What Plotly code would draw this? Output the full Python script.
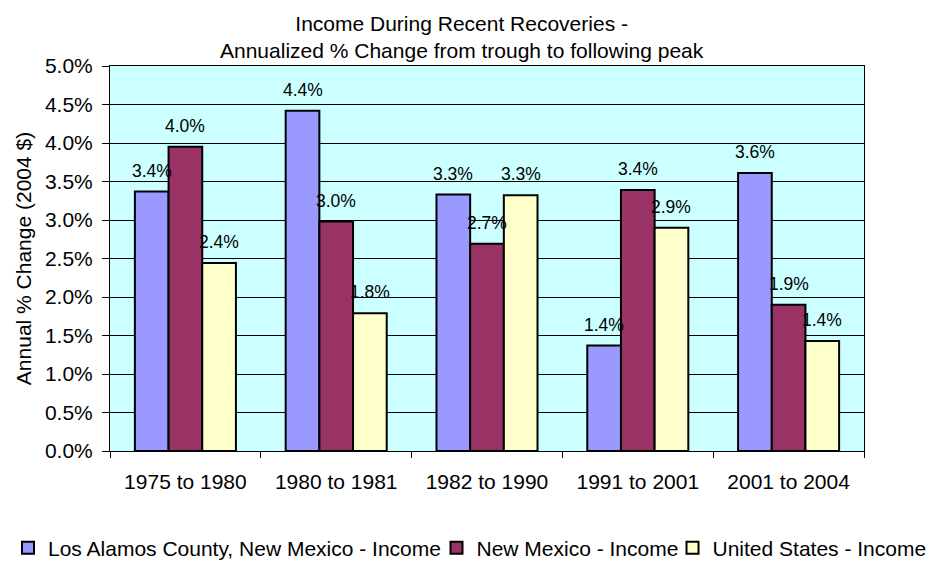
import plotly.graph_objects as go

categories = ["1975 to 1980", "1980 to 1981", "1982 to 1990", "1991 to 2001", "2001 to 2004"]
series_names = ["Los Alamos County, New Mexico - Income", "New Mexico - Income", "United States - Income"]
los_alamos = [3.37, 4.42, 3.33, 1.37, 3.61]
new_mexico = [3.95, 2.98, 2.69, 3.39, 1.90]
united_states = [2.44, 1.79, 3.32, 2.90, 1.43]
y_ticks = [0.0, 0.5, 1.0, 1.5, 2.0, 2.5, 3.0, 3.5, 4.0, 4.5, 5.0]
title_lines = ["Income During Recent Recoveries -", "Annualized % Change from trough to following peak"]

colors = ["#9999FF", "#993366", "#FFFFCC"]
series = [los_alamos, new_mexico, united_states]
FONT = "Arial, 'Liberation Sans', sans-serif"
BARGAP = 0.33

# the page body has an 8px margin; size the figure so it ends at the window edge
PAGE_OFF = 8
W, H = 935 - PAGE_OFF, 561 - PAGE_OFF
L, T = 110 - PAGE_OFF, 66 - PAGE_OFF
R, B = 71, 110

# one legend per series so the row sits in one line like the original
legend_ids = ["legend", "legend2", "legend3"]
legend_symbol_x = [28, 456.5, 692.5]   # page x of each legend swatch centre
LEGEND_Y = 548

fig = go.Figure()
for name, vals, col, lid in zip(series_names, series, colors, legend_ids):
    fig.add_trace(go.Bar(
        x=categories, y=vals, name=name, legend=lid, showlegend=True,
        marker=dict(color=col, line=dict(color="black", width=2)),
        hoverinfo="x+y+name",
    ))

# data labels above each bar
bw = (1 - BARGAP) / len(series)
annotations = []
for si, vals in enumerate(series):
    off = (si - (len(series) - 1) / 2) * bw
    for ci, v in enumerate(vals):
        annotations.append(dict(
            x=ci + off, y=v, xref="x", yref="y",
            text=f"{v:.1f}%", showarrow=False,
            yanchor="middle", yshift=21,
            font=dict(family=FONT, size=17.5, color="black"),
        ))

# chart title
annotations.append(dict(
    x=(462 - PAGE_OFF - L) / (W - L - R), y=1, xref="paper", yref="paper",
    xanchor="center", yanchor="top", yshift=T - 2,
    text="<br>".join(title_lines), showarrow=False, align="center",
    font=dict(family=FONT, size=21, color="black"),
))

legends = {}
for lid, sx in zip(legend_ids, legend_symbol_x):
    legends[lid] = dict(
        visible=True,
        orientation="h", xref="container", yref="container",
        x=max(0.0, (sx - PAGE_OFF - 20) / W), xanchor="left",
        y=1 - (LEGEND_Y - PAGE_OFF) / H, yanchor="middle",
        font=dict(family=FONT, size=21, color="black"),
        bgcolor="rgba(0,0,0,0)", itemwidth=30,
    )

fig.update_layout(
    width=W, height=H,
    margin=dict(l=L, r=R, t=T, b=B),
    paper_bgcolor="white", plot_bgcolor="#CCFFFF",
    showlegend=True,
    barmode="group", bargap=BARGAP, bargroupgap=0,
    font=dict(family=FONT, size=21, color="black"),
    xaxis=dict(
        showline=True, linecolor="black", linewidth=1, mirror=True,
        ticks="outside", ticklen=6, tickcolor="black", tickson="boundaries",
        showgrid=False, ticklabelstandoff=12, automargin=False,
        tickfont=dict(family=FONT, size=21, color="black"),
    ),
    yaxis=dict(
        range=[0, 5], tickvals=y_ticks, ticktext=[f"{t:.1f}%" for t in y_ticks],
        showline=True, linecolor="black", linewidth=1, mirror=True,
        ticks="outside", ticklen=7, tickcolor="black",
        showgrid=True, gridcolor="black", gridwidth=1, zeroline=False,
        ticklabelstandoff=5, automargin=False,
        tickfont=dict(family=FONT, size=21, color="black"),
        title=dict(text="Annual % Change (2004 $)", standoff=7,
                   font=dict(family=FONT, size=21, color="black")),
    ),
    annotations=annotations,
    **legends,
)

fig.write_html("out.html")
